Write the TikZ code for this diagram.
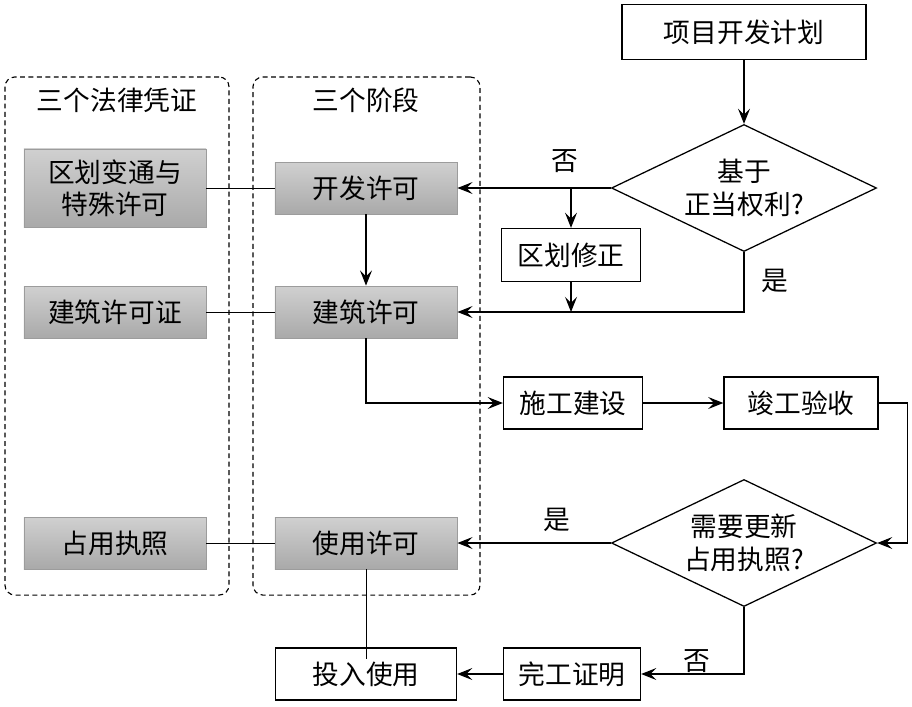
\documentclass[tikz,border=0pt]{standalone}
\usepackage{fontspec}
\setmainfont{Noto Sans CJK SC}
\usetikzlibrary{shapes.geometric,arrows.meta,positioning}
\definecolor{stagetop}{HTML}{D0D0D0}
\definecolor{stagebot}{HTML}{A9A9A9}
\definecolor{stageline}{HTML}{9C9C9C}

\begin{document}
\begin{tikzpicture}[
   x=0.025cm,y=-0.025cm,
   font=\fontsize{19}{23}\selectfont,
   box/.style={draw,line width=0.9pt,minimum height=1.3cm,inner sep=2pt,align=center},
   stage/.style={draw=stageline,line width=0.6pt,top color=stagetop,bottom color=stagebot,
      minimum width=4.55cm,minimum height=1.3cm,align=center},
   choice/.style={draw,diamond,line width=0.9pt,aspect=2.1,inner sep=0pt,
      minimum width=6.625cm,minimum height=3.175cm,align=center},
   group/.style={draw,line width=0.8pt,dash pattern=on 3.5pt off 2.5pt,rounded corners=0.25cm},
   arr/.style={-{Stealth[length=3.8mm,width=3mm,inset=1.5mm]},line width=0.8pt},
   link/.style={line width=0.6pt}]
\useasboundingbox (0,0) rectangle (912,706);

% dashed groups
\node[group,minimum width=5.6cm,minimum height=12.95cm] (lawgrp) at (117,336) {};
\node[group,minimum width=5.675cm,minimum height=12.95cm] (stagegrp) at (366.5,336) {};
\node (lawtitle) at (117,100) {三个法律凭证};
\node (stagetitle) at (366,100) {三个阶段};

% legal documents
\node[stage,minimum height=1.95cm] (zoning) at (115,188) {区划变通与\\特殊许可};
\node[stage] (bldcert) at (115,312) {建筑许可证};
\node[stage] (occcert) at (115,543) {占用执照};

% stages
\node[stage] (dev) at (366,188) {开发许可};
\node[stage] (bld) at (366,312) {建筑许可};
\node[stage] (use) at (366,543) {使用许可};

% process
\node[box,minimum width=6.1cm,minimum height=1.375cm] (plan) at (744,32) {项目开发计划};
\node[choice] (right) at (744,188) {基于\\正当权利?};
\node[box,minimum width=3.475cm,minimum height=1.325cm] (rezone) at (571,255) {区划修正};
\node[box,minimum width=3.475cm] (cons) at (573,403) {施工建设};
\node[box,minimum width=3.85cm] (accept) at (801,403) {竣工验收};
\node[choice] (renew) at (744,543) {需要更新\\占用执照?};
\node[box,minimum width=3.425cm] (finish) at (572,674) {完工证明};
\node[box,minimum width=4.525cm] (putuse) at (366,674) {投入使用};

\coordinate (rezonein) at (rezone.north |- right.west);
\coordinate (rezoneout) at (rezone.south |- bld.east);
\coordinate (useend) at ([yshift=-8]putuse.north);

\draw[link] (zoning) -- (dev);
\draw[link] (bldcert) -- (bld);
\draw[link] (occcert) -- (use);
\draw[link] (use.south) -- (useend);

\draw[arr] (plan) -- (right);
\draw[arr] (right.west) -- (dev.east) node[pos=0.3,above=7pt] (lblno1) {否};
\draw[arr] (rezonein) -- (rezone.north);
\draw[arr] (rezone.south) -- (rezoneout);
\draw[arr] (right.south) |- (bld.east) node[pos=0.24,right=9pt] (lblyes1) {是};
\draw[arr] (dev) -- (bld);
\draw[arr] (bld.south) |- (cons.west);
\draw[arr] (cons) -- (accept);
\draw[arr] (accept.east) -- ++(29,0) |- (renew.east);
\draw[arr] (renew.west) -- (use.east) node[pos=0.35,above=4pt] (lblyes2) {是};
\draw[arr] (renew.south) |- (finish.east) node[pos=0.4,left=20pt] (lblno2) {否};
\draw[arr] (finish) -- (putuse);
\end{tikzpicture}
\end{document}
